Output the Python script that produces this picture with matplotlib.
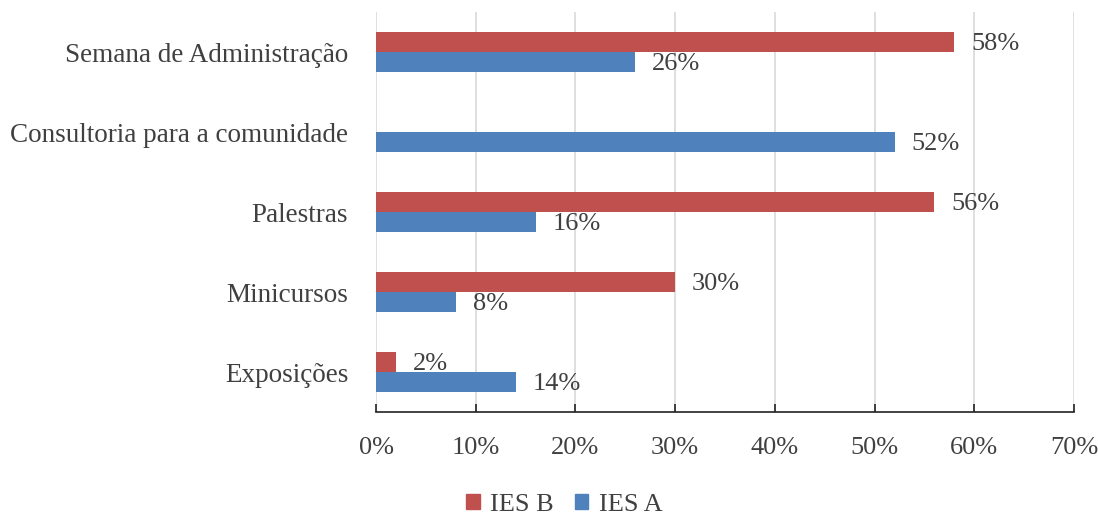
import numpy as np
import matplotlib.pyplot as plt
from matplotlib.patches import Patch

# dados
categorias = ["Semana de Administração", "Consultoria para a comunidade",
              "Palestras", "Minicursos", "Exposições"]
ies_b = [58, None, 56, 30, 2]
ies_a = [26, 52, 16, 8, 14]
ticks_x = [0, 10, 20, 30, 40, 50, 60, 70]

cor_b = "#C0504D"
cor_a = "#4F81BD"
cor_texto = "#404040"
fs = 19

plt.rcParams["font.family"] = ["Liberation Serif", "DejaVu Serif"]

fig = plt.figure(figsize=(10.98, 5.15), dpi=100)
ax = fig.add_axes([376/1098, 1 - 412/515, (1074 - 376)/1098, 400/515])

y = np.arange(len(categorias))[::-1]
h = 0.25

for i in range(len(categorias)):
    if ies_b[i] is not None:
        ax.barh(y[i] + h/2, ies_b[i], height=h, color=cor_b, zorder=3)
        ax.text(ies_b[i] + 1.7, y[i] + h/2 - 0.03, f"{ies_b[i]}%", va="center",
                ha="left", fontsize=fs, color=cor_texto)
    ax.barh(y[i] - h/2, ies_a[i], height=h, color=cor_a, zorder=3)
    ax.text(ies_a[i] + 1.7, y[i] - h/2 - 0.03, f"{ies_a[i]}%", va="center",
            ha="left", fontsize=fs, color=cor_texto)

ax.set_xlim(0, 70)
ax.set_ylim(-0.5, 4.5)
ax.set_xticks(ticks_x)
ax.set_xticklabels([f"{t}%" for t in ticks_x], fontsize=fs, color=cor_texto)
ax.set_yticks(y)
ax.set_yticklabels(categorias, fontsize=19.5, color=cor_texto)
ax.tick_params(axis="y", length=0, pad=20)
ax.tick_params(axis="x", direction="in", length=6, width=1.2, color="#222222", pad=18)

ax.grid(axis="x", color="#D9D9D9", linewidth=1.2, zorder=0)
for s in ["top", "right", "left"]:
    ax.spines[s].set_visible(False)
ax.spines["bottom"].set_color("#222222")
ax.spines["bottom"].set_linewidth(1.2)

handles = [Patch(color=cor_b, label="IES B"), Patch(color=cor_a, label="IES A")]
fig.legend(handles=handles, loc="center", bbox_to_anchor=(0.514, 1 - 505/515),
           ncol=2, frameon=False, fontsize=fs, handlelength=0.5, handleheight=0.5,
           handletextpad=0.4, columnspacing=0.8, labelcolor=cor_texto,
           borderpad=0.1)

fig.savefig("out.png", dpi=100)
